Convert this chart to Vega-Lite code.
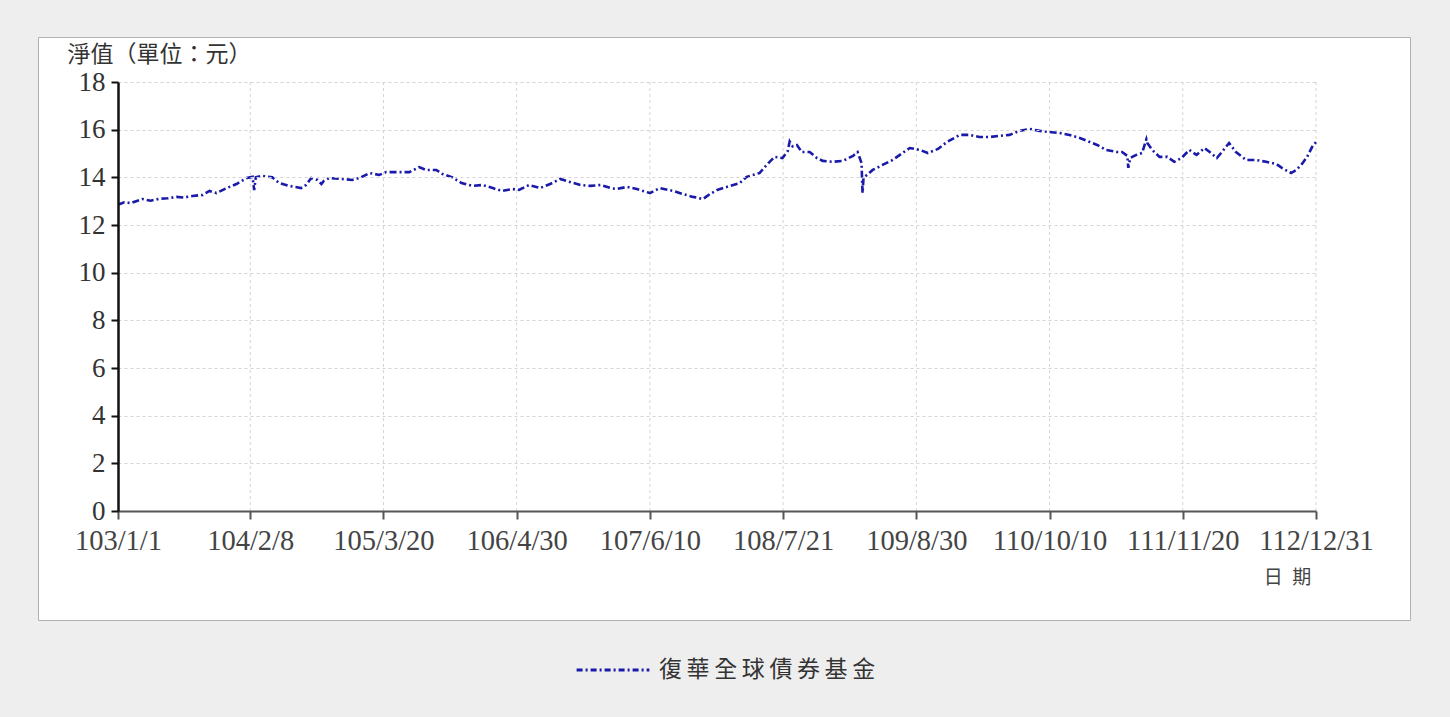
{
  "$schema": "https://vega.github.io/schema/vega-lite/v6.json",
  "width": 1372,
  "height": 583,
  "autosize": {"type": "none"},
  "padding": {"left": 38, "top": 37, "right": 40, "bottom": 97},
  "background": "#eeeeee",
  "view": {"fill": "white", "stroke": "#b0b0b0", "strokeWidth": 1},
  "encoding": {
    "x": {
      "field": "d", "type": "temporal",
      "scale": {"domain": [{"year": 2014, "month": 1, "date": 1}, {"year": 2023, "month": 12, "date": 31}], "range": [80, 1278], "nice": false},
      "axis": {
        "offset": -109,
        "zindex": 1,
        "values": [
          {"year": 2014, "month": 1, "date": 1}, {"year": 2015, "month": 2, "date": 8},
          {"year": 2016, "month": 3, "date": 20}, {"year": 2017, "month": 4, "date": 30},
          {"year": 2018, "month": 6, "date": 10}, {"year": 2019, "month": 7, "date": 21},
          {"year": 2020, "month": 8, "date": 30}, {"year": 2021, "month": 10, "date": 10},
          {"year": 2022, "month": 11, "date": 20}, {"year": 2023, "month": 12, "date": 31}
        ],
        "labelExpr": "(year(datum.value) - 1911) + '/' + (month(datum.value) + 1) + '/' + date(datum.value)",
        "labelFont": "Liberation Serif", "labelFontSize": 28.5, "labelColor": "#444",
        "labelPadding": 7, "labelOverlap": false, "labelFlush": false,
        "domainColor": "#555", "domainWidth": 2,
        "tickColor": "#555", "tickWidth": 2, "tickSize": 8,
        "grid": false,
        "title": "日\u2002期", "titleFont": "Noto Sans CJK TC", "titleFontSize": 19, "titleFontWeight": "normal",
        "titleColor": "#444", "titleX": 1249, "titleY": 72, "titleAlign": "center", "titleBaseline": "alphabetic"
      }
    }
  },
  "layer": [
    {
      "data": {"values": [
        {"d":"2015-02-08"},{"d":"2016-03-20"},{"d":"2017-04-30"},{"d":"2018-06-10"},
        {"d":"2019-07-21"},{"d":"2020-08-30"},{"d":"2021-10-10"},{"d":"2022-11-20"},{"d":"2023-12-31"}
      ]},
      "mark": {"type": "rule", "color": "#d4d4d4", "strokeDash": [3, 3], "strokeWidth": 1},
      "encoding": {
        "y": {"datum": 0, "type": "quantitative"},
        "y2": {"datum": 18}
      }
    },
    {
      "data": {"values": [
        {"d":"2014-01-01","v":12.85},{"d":"2014-01-20","v":12.95},{"d":"2014-02-10","v":12.92},{"d":"2014-03-16","v":13.09},
        {"d":"2014-04-10","v":13.02},{"d":"2014-05-07","v":13.10},{"d":"2014-06-01","v":13.12},{"d":"2014-06-28","v":13.18},
        {"d":"2014-07-20","v":13.15},{"d":"2014-08-16","v":13.22},{"d":"2014-09-16","v":13.26},{"d":"2014-10-07","v":13.43},
        {"d":"2014-10-28","v":13.34},{"d":"2014-11-28","v":13.55},{"d":"2014-12-28","v":13.72},{"d":"2015-01-28","v":13.97},
        {"d":"2015-02-15","v":14.02},{"d":"2015-02-20","v":13.47},{"d":"2015-02-25","v":14.00},{"d":"2015-03-16","v":14.06},
        {"d":"2015-04-16","v":14.00},{"d":"2015-05-07","v":13.76},{"d":"2015-06-07","v":13.64},{"d":"2015-07-13","v":13.55},
        {"d":"2015-07-28","v":13.68},{"d":"2015-08-13","v":13.97},{"d":"2015-09-01","v":13.89},{"d":"2015-09-13","v":13.72},
        {"d":"2015-09-20","v":13.85},{"d":"2015-10-07","v":13.97},{"d":"2015-11-16","v":13.93},{"d":"2015-12-16","v":13.89},
        {"d":"2016-01-07","v":13.97},{"d":"2016-02-07","v":14.18},{"d":"2016-03-07","v":14.10},{"d":"2016-03-28","v":14.22},
        {"d":"2016-05-07","v":14.22},{"d":"2016-06-07","v":14.22},{"d":"2016-07-07","v":14.43},{"d":"2016-07-28","v":14.31},
        {"d":"2016-08-28","v":14.31},{"d":"2016-09-16","v":14.14},{"d":"2016-10-16","v":14.00},{"d":"2016-11-13","v":13.76},
        {"d":"2016-12-16","v":13.64},{"d":"2017-01-16","v":13.68},{"d":"2017-02-16","v":13.55},{"d":"2017-03-16","v":13.43},
        {"d":"2017-04-16","v":13.51},{"d":"2017-05-07","v":13.47},{"d":"2017-06-07","v":13.68},{"d":"2017-07-10","v":13.55},
        {"d":"2017-08-10","v":13.72},{"d":"2017-09-10","v":13.93},{"d":"2017-10-10","v":13.80},{"d":"2017-11-10","v":13.68},
        {"d":"2017-12-10","v":13.64},{"d":"2018-01-10","v":13.68},{"d":"2018-02-10","v":13.55},{"d":"2018-03-01","v":13.51},
        {"d":"2018-04-01","v":13.60},{"d":"2018-05-01","v":13.51},{"d":"2018-06-10","v":13.34},{"d":"2018-07-10","v":13.55},
        {"d":"2018-08-19","v":13.43},{"d":"2018-09-19","v":13.30},{"d":"2018-10-19","v":13.18},{"d":"2018-11-19","v":13.09},
        {"d":"2018-12-10","v":13.30},{"d":"2019-01-01","v":13.47},{"d":"2019-02-19","v":13.68},{"d":"2019-03-10","v":13.75},
        {"d":"2019-04-01","v":14.02},{"d":"2019-05-10","v":14.18},{"d":"2019-06-01","v":14.52},{"d":"2019-06-25","v":14.86},
        {"d":"2019-07-19","v":14.81},{"d":"2019-08-04","v":15.10},{"d":"2019-08-10","v":15.50},{"d":"2019-08-19","v":15.30},
        {"d":"2019-09-01","v":15.36},{"d":"2019-09-16","v":15.06},{"d":"2019-10-10","v":15.06},{"d":"2019-11-01","v":14.81},
        {"d":"2019-11-19","v":14.69},{"d":"2019-12-19","v":14.65},{"d":"2020-01-19","v":14.69},{"d":"2020-02-19","v":14.90},
        {"d":"2020-03-04","v":15.06},{"d":"2020-03-16","v":14.60},{"d":"2020-03-19","v":13.34},{"d":"2020-03-22","v":13.97},
        {"d":"2020-04-01","v":14.10},{"d":"2020-04-19","v":14.31},{"d":"2020-05-19","v":14.52},{"d":"2020-06-19","v":14.73},
        {"d":"2020-07-19","v":15.02},{"d":"2020-08-10","v":15.23},{"d":"2020-09-10","v":15.15},{"d":"2020-10-04","v":15.02},
        {"d":"2020-11-04","v":15.19},{"d":"2020-12-01","v":15.48},{"d":"2021-01-10","v":15.78},{"d":"2021-02-10","v":15.78},
        {"d":"2021-03-10","v":15.69},{"d":"2021-04-10","v":15.69},{"d":"2021-05-10","v":15.74},{"d":"2021-06-10","v":15.78},
        {"d":"2021-07-10","v":15.95},{"d":"2021-08-10","v":16.03},{"d":"2021-09-10","v":15.95},{"d":"2021-10-10","v":15.90},
        {"d":"2021-11-10","v":15.86},{"d":"2021-12-10","v":15.78},{"d":"2022-01-10","v":15.65},{"d":"2022-02-10","v":15.48},
        {"d":"2022-03-04","v":15.36},{"d":"2022-04-01","v":15.15},{"d":"2022-05-04","v":15.06},{"d":"2022-05-19","v":15.06},
        {"d":"2022-06-04","v":14.90},{"d":"2022-06-07","v":14.40},{"d":"2022-06-13","v":14.81},{"d":"2022-07-01","v":14.94},
        {"d":"2022-07-19","v":15.02},{"d":"2022-08-01","v":15.60},{"d":"2022-08-04","v":15.44},{"d":"2022-08-19","v":15.15},
        {"d":"2022-09-10","v":14.86},{"d":"2022-10-04","v":14.86},{"d":"2022-10-25","v":14.65},{"d":"2022-11-16","v":14.81},
        {"d":"2022-12-10","v":15.15},{"d":"2023-01-01","v":14.94},{"d":"2023-01-25","v":15.23},{"d":"2023-02-10","v":15.06},
        {"d":"2023-03-04","v":14.81},{"d":"2023-03-19","v":15.06},{"d":"2023-04-10","v":15.44},{"d":"2023-05-01","v":15.06},
        {"d":"2023-06-01","v":14.73},{"d":"2023-07-01","v":14.73},{"d":"2023-08-01","v":14.65},{"d":"2023-09-01","v":14.56},
        {"d":"2023-09-19","v":14.39},{"d":"2023-10-16","v":14.18},{"d":"2023-11-01","v":14.31},{"d":"2023-11-16","v":14.52},
        {"d":"2023-12-04","v":14.86},{"d":"2023-12-19","v":15.27},{"d":"2023-12-31","v":15.48}
      ]},
      "mark": {"type": "line", "strokeWidth": 2.6, "strokeDash": [7, 3, 2, 3], "clip": false},
      "encoding": {
        "y": {
          "field": "v", "type": "quantitative",
          "scale": {"domain": [0, 18], "range": [474, 45], "nice": false, "zero": true},
          "axis": {
            "offset": -80,
            "zindex": 1,
            "values": [0,1,2,3,4,5,6,7,8,9,10,11,12,13,14,15,16,17,18],
            "labelExpr": "datum.value % 2 === 0 ? datum.label : ''",
            "labelFont": "Liberation Serif", "labelFontSize": 27, "labelColor": "#333",
            "labelPadding": 6,
            "domainColor": "#111", "domainWidth": 2.5,
            "tickColor": "#111", "tickWidth": 2, "tickSize": 7,
            "grid": true, "gridColor": "#d4d4d4", "gridDash": [3, 3], "gridWidth": 1,
            "gridOpacity": {"condition": {"test": "datum.value % 2 !== 0", "value": 0}, "value": 1},
            "title": "淨值（單位：元）", "titleFont": "Noto Sans CJK TC", "titleFontSize": 23, "titleFontWeight": "normal",
            "titleColor": "#333", "titleAngle": 0, "titleX": -51, "titleY": 24, "titleAlign": "left", "titleBaseline": "alphabetic"
          }
        },
        "color": {
          "datum": "復華全球債券基金",
          "scale": {"range": ["#1a1aaa"]},
          "legend": {
            "orient": "none", "legendX": 537, "legendY": 595, "title": null, "padding": 0,
            "symbolType": "stroke", "symbolSize": 5300, "symbolStrokeWidth": 3, "symbolDash": [6, 3, 2, 3],
            "symbolStrokeColor": "#1b237a",
            "labelExpr": "'復\u2009華\u2009全\u2009球\u2009債\u2009券\u2009基\u2009金'",
            "labelFont": "Noto Sans CJK TC", "labelFontSize": 23, "labelColor": "#333", "labelOffset": 8, "labelLimit": 400
          }
        }
      }
    }
  ]
}
